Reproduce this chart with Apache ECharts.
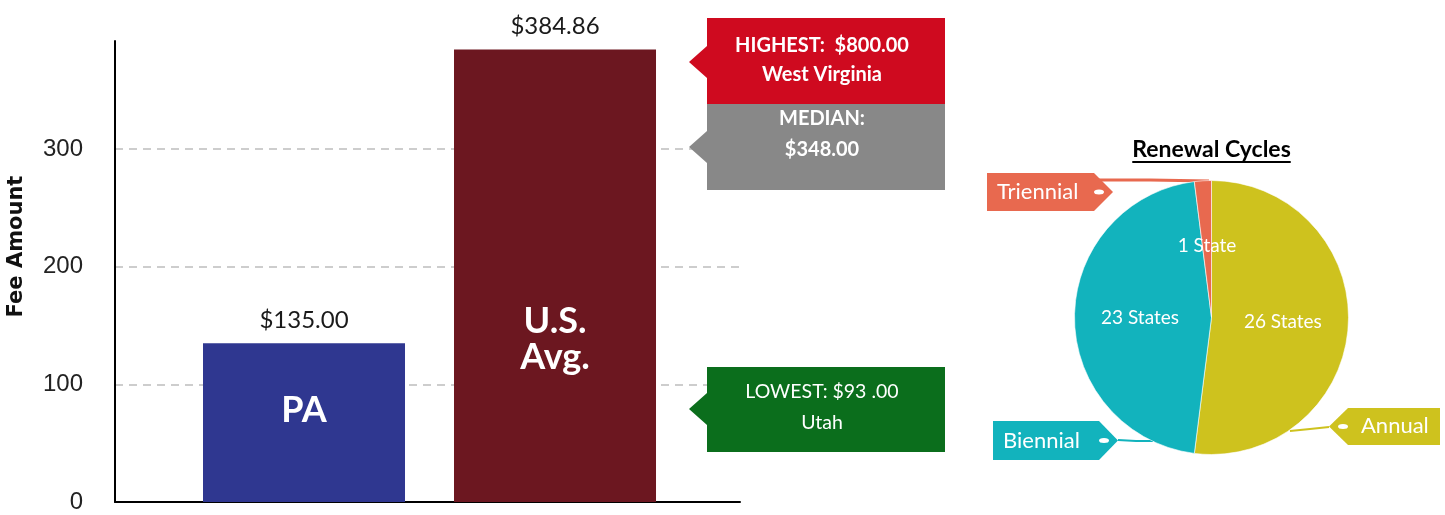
<!DOCTYPE html>
<html><head><meta charset="utf-8">
<script src="https://cdn.jsdelivr.net/npm/echarts@6/dist/echarts.min.js"></script>
<style>html,body{margin:0;padding:0;background:#fff}#c{width:1445px;height:515px}</style>
</head><body><div id="c"></div>
<script>
// ---------- data ----------
const barCategories = ['PA', 'U.S.\nAvg.'];
const barValues = [135.00, 384.86];
const yTickValues = [0, 100, 200, 300];
const yAxisTitle = 'Fee Amount';
const calloutHigh = ['HIGHEST:  $800.00', 'West Virginia'];
const calloutMedian = ['MEDIAN:', '$348.00'];
const calloutLow = ['LOWEST: $93 .00', 'Utah'];
const pieTitle = 'Renewal Cycles';
const pieCategories = ['Annual', 'Biennial', 'Triennial'];
const pieValues = [26, 23, 1];

// ---------- styles ----------
const barColors = ['#2f3790', '#6c1720'];
const pieColors = ['#cec21e', '#12b3bd', '#e8694f'];
const insideOffsets = [[0, -12], [0, 64]];
const PIE_C = [1211.5, 317.5], PIE_R = 137;

const chart = echarts.init(document.getElementById('c'), null, {renderer: 'canvas'});

function makeTag(w, h, color, side) {
  const c = document.createElement('canvas'); c.width = w; c.height = h;
  const g = c.getContext('2d'); const a = 19;
  g.fillStyle = color; g.beginPath();
  if (side === 'right') { g.moveTo(0,0); g.lineTo(w-a,0); g.lineTo(w,h/2); g.lineTo(w-a,h); g.lineTo(0,h); }
  else { g.moveTo(a,0); g.lineTo(w,0); g.lineTo(w,h); g.lineTo(a,h); g.lineTo(0,h/2); }
  g.closePath(); g.fill();
  g.fillStyle = '#fff'; g.beginPath();
  const dx = side === 'right' ? w - 14 : 14;
  g.ellipse(dx, h/2, 5, 2.5, 0, 0, Math.PI*2); g.fill();
  return c;
}

const tagSpecs = [
  {w:111, h:37, side:'left',  width:74, padding:[7,5,8,32],  x:1329, y:408, line:[[1290,431],[1310,429],[1329,427]], lw:2},
  {w:125, h:39, side:'right', width:88, padding:[9,27,8,10], x:993,  y:421, line:[[1153,441],[1136,441],[1118,440]], lw:2},
  {w:126, h:38, side:'right', width:90, padding:[8,26,8,10], x:987,  y:173, line:[[1209,181],[1150,180],[1099,180]], lw:3}
];

// callout graphics
const callouts = [
  {color:'#cf0a1f', top:18,  bottom:104, tip:62,  bold:true,  lines:calloutHigh,   ly:[46,75]},
  {color:'#888888', top:104, bottom:190, tip:147, bold:true,  lines:calloutMedian, ly:[119,150]},
  {color:'#0b6e1c', top:367, bottom:452, tip:409, bold:false, lines:calloutLow,    ly:[392,423]}
];
const graphics = [];
callouts.forEach(cb => {
  graphics.push({type:'polygon', z:100, silent:true,
    shape:{points:[[707,cb.top],[945,cb.top],[945,cb.bottom],[707,cb.bottom],[707,cb.tip+16],[689,cb.tip],[707,cb.tip-16]]},
    style:{fill:cb.color}});
  cb.lines.forEach((t, k) => {
    graphics.push({type:'text', z:101, silent:true, x:822, y:cb.ly[k],
      style:{text:t, fill:'#fff', font:(cb.bold ? 'bold 20px' : '19.5px') + ' Lato', align:'center', verticalAlign:'middle', textAlign:'center', textVerticalAlign:'middle'}});
  });
});
// pie title + underline
const mc = document.createElement('canvas').getContext('2d');
mc.font = 'bold 23px Lato';
const tw = mc.measureText(pieTitle).width;
graphics.push({type:'text', z:101, silent:true, x:PIE_C[0], y:150,
  style:{text:pieTitle, fill:'#000', font:'bold 23px Lato', align:'center', verticalAlign:'middle', textAlign:'center', textVerticalAlign:'middle'}});
graphics.push({type:'line', z:101, silent:true, shape:{x1:PIE_C[0]-tw/2, y1:162, x2:PIE_C[0]+tw/2, y2:162}, style:{stroke:'#000', lineWidth:2}});

const option = {
  animation: false,
  grid: {left:115, right:705, top:41, bottom:13, containLabel:false},
  xAxis: {type:'value', min:-0.753, max:1.737,
    axisLine:{show:true, onZero:false, lineStyle:{color:'#000', width:2}},
    axisTick:{show:false}, axisLabel:{show:false}, splitLine:{show:false}},
  yAxis: {type:'value', min:yTickValues[0], max:392, interval:yTickValues[1]-yTickValues[0],
    axisLine:{show:true, onZero:false, lineStyle:{color:'#000', width:2}},
    axisTick:{show:false},
    axisLabel:{fontFamily:'Liberation Sans', fontSize:24, color:'#222', margin:32, showMaxLabel:false},
    splitLine:{show:true, showMaxLine:false, showMinLine:false, lineStyle:{color:'#bdbdbd', type:[8,6], width:1.5}},
    name:yAxisTitle, nameLocation:'middle', nameGap:88,
    nameTextStyle:{fontFamily:'DejaVu Sans', fontWeight:'bold', fontSize:21, color:'#111', padding:[0,0,0,50]}},
  graphic: graphics,
  series: [
    {type:'bar', silent:true, barWidth:202,
      data: barValues.map((v,i) => ({value:[i, v], itemStyle:{color:barColors[i]}})),
      label:{show:true, position:'top', distance:11, fontFamily:'Lato', fontSize:24, color:'#1a1a1a',
        formatter: p => '$' + p.value[1].toFixed(2)}},
    {type:'scatter', silent:true, z:5, symbolSize:1, itemStyle:{color:'rgba(0,0,0,0)', opacity:1},
      data: barValues.map((v,i) => ({value:[i, v/2], label:{offset:insideOffsets[i]}})),
      label:{show:true, position:'inside', fontFamily:'Lato', fontWeight:'bold', fontSize:36, lineHeight:36, color:'#fff', opacity:1,
        formatter: p => barCategories[p.dataIndex]}},
    {type:'pie', silent:true, center:PIE_C, radius:PIE_R, startAngle:90, clockwise:true,
      data: pieCategories.map((n,i) => ({name:n, value:pieValues[i], itemStyle:{color:pieColors[i]}})),
      itemStyle:{borderColor:'#fff', borderWidth:0.6},
      label:{show:true, position:'inside', fontFamily:'Lato', fontSize:19, color:'#fff',
        formatter: p => p.value + (p.value === 1 ? ' State' : ' States')},
      labelLine:{show:false}},
    {type:'pie', silent:true, center:PIE_C, radius:PIE_R, startAngle:90, clockwise:true, z:1,
      data: pieCategories.map((n,i) => {
        const s = tagSpecs[i];
        return {name:n, value:pieValues[i], itemStyle:{color:'rgba(0,0,0,0)'},
          label:{width:s.width, padding:s.padding, backgroundColor:{image:makeTag(s.w, s.h, pieColors[i], s.side)}},
          labelLine:{lineStyle:{color:pieColors[i], width:s.lw}}};
      }),
      label:{show:true, position:'outside', alignTo:'none', overflow:'none', fontFamily:'Lato', fontSize:22, lineHeight:22, color:'#fff', align:'left',
        formatter: p => p.name},
      labelLine:{show:true, length:10, length2:10},
      labelLayout: p => {
        const s = tagSpecs[p.dataIndex];
        return {x:s.x, y:s.y, align:'left', verticalAlign:'top', labelLinePoints:s.line};
      }}
  ]
};
chart.setOption(option);
</script>
</body></html>
